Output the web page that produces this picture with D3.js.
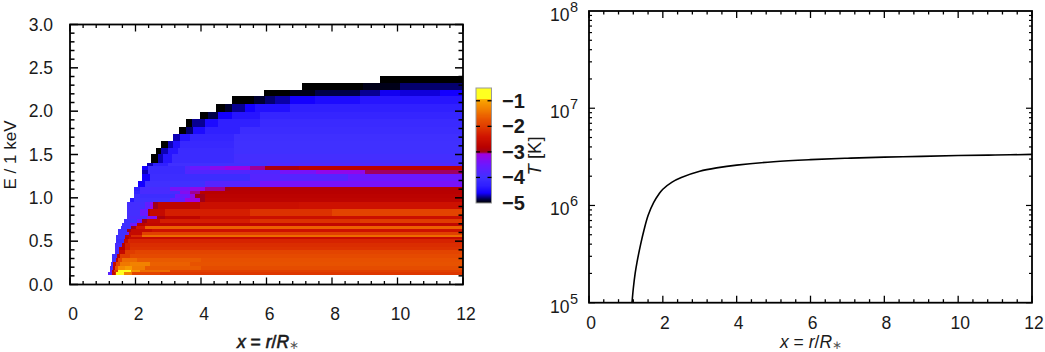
<!DOCTYPE html>
<html><head><meta charset="utf-8">
<script src="https://cdn.jsdelivr.net/npm/d3@7"></script>
<style>html,body{margin:0;padding:0;background:#fff}svg{display:block}text{font-family:"Liberation Sans",Arial,sans-serif;fill:#1a1a1a}</style>
</head><body><svg id="c" width="1045" height="352"></svg>
<script>
// Energy bin edges (keV), top to bottom
const energyEdges=[2.41,2.33,2.25,2.17,2.08,1.99,1.91,1.82,1.74,1.66,1.58,1.51,1.40,1.37,1.32,1.27,1.20,1.13,1.08,1.05,1.00,0.95,0.87,0.79,0.76,0.71,0.68,0.64,0.61,0.57,0.55,0.53,0.48,0.43,0.40,0.35,0.31,0.26,0.21,0.17,0.14,0.113];
// First x of each energy row
const rowStarts=[9.47,7.08,5.92,4.95,4.46,3.97,3.54,3.33,3.15,2.78,2.63,2.47,2.35,2.20,2.20,2.20,2.08,1.95,1.95,1.95,1.83,1.74,1.74,1.74,1.65,1.59,1.56,1.47,1.47,1.40,1.40,1.40,1.37,1.37,1.37,1.28,1.28,1.25,1.22,1.22,1.16];
// Runs of [x end, log10 emission] per row
const rowRuns=[
[[12,-5]],
[[8.95,-5],[10.08,-4.95],[12,-4.8]],
[[6.72,-5],[7.48,-4.95],[8.85,-4.85],[9.47,-4.75],[10.08,-4.62],[11.3,-4.65],[12,-4.6]],
[[5.62,-5],[5.95,-4.9],[6.26,-4.8],[6.72,-4.72],[7.48,-4.6],[8.85,-4.5],[12,-4.4]],
[[4.73,-5],[4.95,-4.9],[5.34,-4.75],[5.65,-4.6],[6.72,-4.45],[12,-4.3]],
[[4.21,-5],[4.52,-4.85],[4.95,-4.6],[5.8,-4.4],[12,-4.2]],
[[3.73,-5],[4.12,-4.75],[4.52,-4.5],[5.8,-4.3],[12,-4.12]],
[[3.54,-5],[3.76,-4.8],[4.12,-4.5],[5.19,-4.3],[12,-4.08]],
[[3.36,-4.7],[3.66,-4.4],[5.0,-4.2],[12,-4.02]],
[[2.99,-5],[3.15,-4.7],[3.36,-4.45],[5.0,-4.15],[12,-4.0]],
[[2.78,-5],[2.99,-4.7],[3.3,-4.4],[5,-4.1],[12,-4.0]],
[[2.69,-5],[2.84,-4.7],[3.11,-4.4],[5,-4.1],[12,-3.95]],
[[2.53,-4.7],[3.0,-4.3],[6,-4.0],[12,-3.85]],
[[2.38,-4.6],[3.51,-4.1],[3.66,-3.8],[4.27,-3.5],[4.73,-3.25],[5.5,-3.12],[5.95,-3.05],[7,-2.9],[12,-2.75]],
[[2.38,-4.7],[3.5,-4.1],[6.4,-3.8],[7.5,-3.4],[9,-3.2],[12,-3.03]],
[[2.44,-4.6],[5.5,-4.05],[8.5,-3.75],[12,-3.5]],
[[2.29,-4.6],[4.12,-4.0],[5.8,-3.75],[12,-3.4]],
[[2.14,-4.3],[3.05,-3.9],[3.66,-3.4],[4.12,-3.2],[4.73,-3.05],[4.89,-2.95],[12,-2.82]],
[[2.14,-4.2],[3.36,-3.9],[3.66,-3.3],[3.97,-3.05],[12,-2.8]],
[[3.21,-4.05],[3.66,-3.5],[3.82,-3.15],[4.12,-3.0],[12,-2.75]],
[[1.95,-4.4],[3.05,-4.0],[3.51,-3.6],[3.97,-3.1],[4.12,-3],[12,-2.72]],
[[2.3,-3.95],[2.44,-3.6],[2.53,-3.2],[2.69,-3.0],[3.97,-2.7],[7,-2.5],[12,-2.45]],
[[2.14,-3.95],[2.38,-3.5],[2.44,-2.85],[2.9,-2.6],[5.5,-2.3],[8,-2.1],[12,-1.9]],
[[2.35,-3.9],[2.66,-3.3],[2.9,-2.9],[3.97,-2.7],[12,-2.5]],
[[2.05,-4.0],[2.2,-3.5],[2.35,-3.0],[2.75,-2.6],[5.5,-2.3],[8.85,-2.1],[12,-2.0]],
[[1.83,-4],[2.05,-3.5],[2.3,-2.75],[12,-2.65]],
[[1.86,-4],[2.0,-3],[2.3,-2.4],[12,-1.6]],
[[1.74,-4],[1.87,-3],[2.5,-2.6],[12,-2.45]],
[[1.74,-4],[1.8,-3.5],[2.2,-2.6],[12,-1.95]],
[[1.68,-4],[1.86,-2.7],[2.2,-2.2],[12,-1.5]],
[[1.68,-4],[1.8,-2.8],[12,-2.6]],
[[1.65,-4.1],[1.77,-2.6],[12,-2.25]],
[[1.59,-3.9],[1.68,-2.8],[1.83,-2.3],[12,-2.15]],
[[1.50,-3.9],[1.68,-2.8],[1.83,-2.3],[12,-2.1]],
[[1.50,-3.9],[1.68,-2.6],[1.98,-2],[12,-1.9]],
[[1.44,-4],[1.53,-2.7],[1.83,-2],[12,-1.82]],
[[1.40,-4],[1.47,-2.7],[1.59,-1.9],[2.05,-1.5],[4,-1.65],[12,-1.75]],
[[1.31,-4],[1.40,-2.6],[1.53,-1.9],[1.83,-1.4],[2.44,-1.3],[3.66,-1.6],[12,-1.72]],
[[1.31,-3.9],[1.37,-2.7],[1.47,-1.7],[1.68,-1.2],[1.89,-1.05],[2.3,-1.35],[4,-1.65],[12,-1.8]],
[[1.28,-3.6],[1.34,-2.7],[1.47,-2],[1.86,-0.8],[2.14,-1.1],[3.05,-1.5],[12,-1.95]],
[[1.28,-3.7],[1.37,-2.6],[1.40,-2.2],[1.65,-0.7],[1.89,-1.3],[2.75,-1.9],[12,-2.05]]
];
// Colour table
const colorDomain=[-5,-4.85,-4.6,-4.3,-4,-3.5,-3.08,-3.0,-2.8,-2.4,-2,-1.7,-1.4,-1,-0.92,-0.9,-0.5];
const colorRange=["#000000","#00004a","#1400ff","#3020ff","#4030ff","#6a18ff","#a000e0","#a00018","#b80000","#d01400","#e03c00","#e85400","#f07800","#f8a000","#ffb800","#ffff20","#ffff20"];
const colorbarTicks=[-1,-2,-3,-4,-5];
// Temperature profile
const radiusValues=[1.165,1.2,1.25,1.3,1.4,1.49,1.6,1.75,1.9,2,2.25,2.5,3,3.5,4,5,6,7,8,9,10,11,12];
const temperatureValues=[1e5,1.4e5,2e5,2.6e5,4e5,5.6e5,7.9e5,1.07e6,1.32e6,1.47e6,1.74e6,1.94e6,2.25e6,2.45e6,2.6e6,2.82e6,2.96e6,3.06e6,3.14e6,3.2e6,3.26e6,3.3e6,3.35e6];
const xTicks=[0,2,4,6,8,10,12];
const eTicks=[0,0.5,1,1.5,2,2.5,3];
const tDecades=[5,6,7,8];

const svg=d3.select("#c");
const x1=d3.scaleLinear().domain([0,12]).range([70,463]);
const y1=d3.scaleLinear().domain([0,3]).range([284.5,24.5]);
const x2=d3.scaleLinear().domain([0,12]).range([589,1032]);
const y2=d3.scaleLog().domain([1e5,1e8]).range([302.7,11]);
const color=d3.scaleLinear().domain(colorDomain).range(colorRange).clamp(true);
const cb=d3.scaleLinear().domain([-5,-0.5]).range([203,88]);

// Heat map
const cells=[];
rowRuns.forEach((runs,i)=>{let s=rowStarts[i];runs.forEach(([e,v])=>{cells.push({x0:s,x1:e,top:energyEdges[i],bot:energyEdges[i+1],v});s=e;});});
svg.append("g").selectAll("rect").data(cells).join("rect")
 .attr("x",d=>x1(d.x0)).attr("width",d=>x1(d.x1)-x1(d.x0)+.3)
 .attr("y",d=>y1(d.top)).attr("height",d=>y1(d.bot)-y1(d.top)+.3)
 .attr("fill",d=>color(d.v)).attr("shape-rendering","crispEdges");

function frame(x,y){
 const [l,r]=x.range(),[b,t]=y.range();
 svg.append("rect").attr("x",l).attr("y",t).attr("width",r-l).attr("height",b-t).attr("fill","none").attr("stroke","#000").attr("stroke-width",1.8);
}
function xTickMarks(x,y){
 const [b,t]=y.range();
 const g=svg.append("g").attr("stroke","#000").attr("stroke-width",1.3);
 d3.range(0,12.01,0.4).forEach(v=>{
  const major=Math.abs(v/2-Math.round(v/2))<1e-6, len=major?7:3.5;
  g.append("line").attr("x1",x(v)).attr("x2",x(v)).attr("y1",b).attr("y2",b-len);
  g.append("line").attr("x1",x(v)).attr("x2",x(v)).attr("y1",t).attr("y2",t+len);
 });
}
// Left panel
frame(x1,y1);xTickMarks(x1,y1);
{const g=svg.append("g").attr("stroke","#000").attr("stroke-width",1.5);
 d3.range(0,3.001,0.1).forEach(v=>{
  const major=Math.abs(v*2-Math.round(v*2))<1e-6,len=major?8:4.5;
  g.append("line").attr("x1",70).attr("x2",70+len).attr("y1",y1(v)).attr("y2",y1(v));
  g.append("line").attr("x1",463).attr("x2",463-len).attr("y1",y1(v)).attr("y2",y1(v));
 });}
svg.append("g").selectAll("text").data(eTicks).join("text").attr("x",53).attr("y",d=>y1(d)+6)
 .attr("text-anchor","end").attr("font-size",17.5).text(d=>d.toFixed(1));
svg.append("g").selectAll("text").data(xTicks).join("text").attr("x",d=>x1(d)+3).attr("y",320)
 .attr("text-anchor","middle").attr("font-size",17.5).text(d=>d);
svg.append("text").attr("transform","translate(16,155) rotate(-90)").attr("text-anchor","middle").attr("font-size",17).text("E / 1 keV");

function xLabel(cx,bold){
 const t=svg.append("text").attr("x",cx).attr("y",347.5).attr("text-anchor","middle").attr("font-size",17.5);
 if(bold)t.attr("stroke","#1a1a1a").attr("stroke-width",.6);
 t.append("tspan").attr("font-style","italic").text("x");
 t.append("tspan").text(" = ");
 t.append("tspan").attr("font-style","italic").text("r");
 t.append("tspan").text("/");
 t.append("tspan").attr("font-style","italic").text("R");
 t.append("tspan").attr("font-size",12).attr("dy",1.5).attr("stroke","none").attr("fill","#555").text("∗");
}
xLabel(268,true);

// Colour bar
const cbVals=d3.range(-5,-0.5,0.02);
svg.append("g").selectAll("rect").data(cbVals).join("rect")
 .attr("x",476).attr("width",15.5).attr("y",d=>cb(d+0.02)).attr("height",d=>cb(d)-cb(d+0.02)+.4)
 .attr("fill",d=>color(d)).attr("shape-rendering","crispEdges");
svg.append("rect").attr("x",476).attr("y",88).attr("width",15.5).attr("height",115).attr("fill","none").attr("stroke","#999").attr("stroke-width",1);
{const g=svg.append("g").attr("stroke","#000").attr("stroke-width",1.3);
 colorbarTicks.slice(0,4).forEach(v=>{
  g.append("line").attr("x1",476).attr("x2",480).attr("y1",cb(v)).attr("y2",cb(v));
  g.append("line").attr("x1",487.5).attr("x2",491.5).attr("y1",cb(v)).attr("y2",cb(v));
 });}
svg.append("g").selectAll("text").data(colorbarTicks).join("text").attr("x",502).attr("y",d=>cb(d)+7)
 .attr("font-size",20).attr("font-weight","bold").attr("fill","#000").text(d=>"−"+Math.abs(d));
{const t=svg.append("text").attr("transform","translate(541,156) rotate(-90)").attr("text-anchor","middle").attr("font-size",18.5);
 t.append("tspan").attr("font-style","italic").text("T");t.append("tspan").text(" [K]");}

// Right panel
frame(x2,y2);xTickMarks(x2,y2);
{const g=svg.append("g").attr("stroke","#000").attr("stroke-width",1.2);
 for(let d=5;d<8;d++)for(let m=1;m<10;m++){
  const v=m*Math.pow(10,d),len=m===1?6:3;
  g.append("line").attr("x1",589).attr("x2",589+len).attr("y1",y2(v)).attr("y2",y2(v));
  g.append("line").attr("x1",1032).attr("x2",1032-len).attr("y1",y2(v)).attr("y2",y2(v));
 }}
svg.append("path").datum(radiusValues.map((r,i)=>[r,temperatureValues[i]]))
 .attr("fill","none").attr("stroke","#000").attr("stroke-width",1.6)
 .attr("d",d3.line().x(d=>x2(d[0])).y(d=>y2(d[1])).curve(d3.curveCatmullRom));
const tl=svg.append("g").selectAll("text").data(tDecades).join("text").attr("x",550).attr("y",d=>y2(Math.pow(10,d))+10).attr("font-size",17.5);
tl.append("tspan").text("10");
tl.append("tspan").attr("font-size",14.5).attr("dy",-9).attr("dx",.5).text(d=>d);
svg.append("g").selectAll("text").data(xTicks).join("text").attr("x",d=>x2(d)+2).attr("y",329)
 .attr("text-anchor","middle").attr("font-size",17.5).text(d=>d);
xLabel(811,false);
</script></body></html>
